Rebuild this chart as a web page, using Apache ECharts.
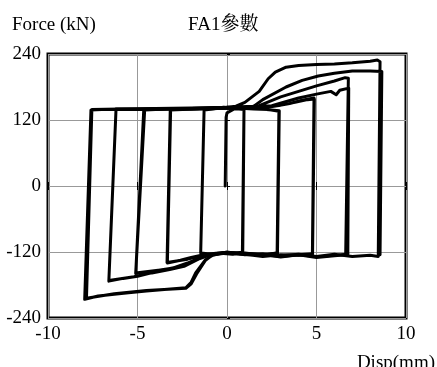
<!DOCTYPE html>
<html>
<head>
<meta charset="utf-8">
<script src="https://cdn.jsdelivr.net/npm/echarts@6/dist/echarts.min.js"></script>
<style>
html,body{margin:0;padding:0;background:#fff;}
#chart{width:437px;height:367px;}
</style>
</head>
<body>
<div id="chart"></div>
<script>
// Tick labels
const xTicks = [-10, -5, 0, 5, 10];
const yTicks = [-240, -120, 0, 120, 240];

// Cycle 1 (initial loading + ~1 mm loops)
const c1Disp  = [-0.10, -0.05, 0.00, 0.40, 0.95, 0.86, 0.40, -0.20, -0.80, -1.47, -1.28, -0.80, -0.20, 0.40, 0.95, 0.88];
const c1Force = [0, 125, 133, 140, 140, -120, -123, -121, -124, -122, 138, 140, 143, 141, 139, -122];

// Cycle 2 (~3 mm loops)
const c2Disp  = [0.88, 0.30, -0.50, -1.30, -2.00, -2.60, -3.33, -3.15, -2.50, -1.50, -0.50, 0.50, 1.50, 2.30, 2.90, 2.80, 2.00, 1.20, 0.40, -0.50, -1.30, -2.20, -3.35, -3.17, -2.40, -1.20, 0.00, 1.20, 2.20, 2.92, 2.82];
const c2Force = [-122, -124, -122, -125, -130, -135, -140, 138, 139, 140, 141, 142, 140, 139, 136, -122, -125, -123, -122, -122, -126, -133, -139, 139, 140, 141, 143, 141, 139, 137, -122];

// Cycle 3 (~5 mm loops)
const c3Disp  = [2.82, 2.00, 1.00, 0.00, -0.80, -1.30, -2.00, -2.60, -3.50, -4.30, -5.10, -4.60, -4.00, -3.00, -2.00, -1.00, 0.00, 1.00, 2.00, 2.80, 3.50, 4.20, 4.86, 4.77, 4.00, 3.00, 2.00, 1.00, 0.00, -1.00, -1.50, -2.20, -3.00, -4.00, -5.10, -4.65, -3.50, -2.00, -0.50, 1.00, 2.20, 3.00, 3.80, 4.50, 4.88, 4.78];
const c3Force = [-122, -126, -122, -121, -124, -127, -138, -146, -152, -155, -158, 138, 139, 140, 140, 141, 142, 141, 142, 146, 150, 156, 160, -124, -126, -125, -128, -124, -122, -124, -130, -140, -149, -154, -159, 139, 140, 141, 142, 141, 143, 147, 152, 157, 158, -123];

// Cycle 4 (~7 mm loops)
const c4Disp  = [4.78, 4.00, 3.00, 2.00, 1.00, 0.00, -1.00, -1.50, -2.30, -3.00, -4.00, -5.00, -5.80, -6.60, -6.20, -5.50, -4.50, -3.00, -1.50, 0.00, 1.00, 1.80, 3.00, 4.00, 5.00, 6.00, 6.60, 6.78, 6.63, 6.00, 5.00, 4.00, 3.00, 2.00, 1.00, 0.00, -1.00, -1.60, -2.40, -3.20, -4.20, -5.20, -6.60, -6.20, -5.00, -3.50, -2.00, -0.50, 1.00, 2.50, 4.00, 5.00, 5.80, 6.10, 6.30, 6.80, 6.90, 6.75];
const c4Force = [-123, -125, -127, -125, -123, -122, -125, -131, -143, -150, -156, -164, -168, -173, 139, 139, 139, 140, 141, 142, 143, 146, 162, 172, 182, 191, 197, 196, -125, -127, -130, -125, -128, -125, -124, -122, -126, -133, -146, -152, -158, -165, -172, 140, 140, 141, 141, 142, 143, 146, 160, 167, 172, 166, 174, 178, 175, -124];

// Cycle 5 (~8.5 mm loops)
const c5Disp  = [6.75, 6.00, 5.00, 4.00, 3.00, 2.00, 1.00, 0.00, -0.80, -1.20, -1.75, -2.00, -2.30, -3.50, -4.50, -5.50, -6.30, -7.20, -7.95, -7.60, -7.00, -6.00, -5.00, -4.00, -3.00, -2.00, -1.00, 0.00, 0.50, 1.00, 1.80, 2.30, 2.70, 3.30, 4.00, 5.00, 6.00, 7.00, 8.00, 8.40, 8.55, 8.45, 8.00, 7.00, 6.00, 5.00, 4.00, 3.00, 2.00, 1.00, 0.00, -0.80, -1.20, -1.70, -2.00, -2.30, -4.50, -6.30, -7.85, -7.55, -6.00, -4.00, -2.00, 0.00, 1.50, 2.00, 3.30, 4.20, 5.10, 6.00, 7.00, 8.00, 8.65, 8.55];
const c5Force = [-124, -126, -128, -125, -129, -124, -125, -120, -126, -134, -158, -175, -185, -188, -191, -194, -197, -200, -206, 138, 139, 139, 140, 140, 141, 141, 142, 143, 145, 152, 172, 195, 207, 216, 219, 221, 222, 224, 227, 229, 226, -128, -126, -128, -124, -128, -124, -127, -123, -124, -121, -125, -135, -160, -178, -186, -190, -196, -204, 139, 140, 141, 142, 143, 145, 157, 180, 192, 200, 205, 209, 209, 208, -125];

const cycles = [[c1Disp, c1Force], [c2Disp, c2Force], [c3Disp, c3Force], [c4Disp, c4Force], [c5Disp, c5Force]];

const FONT = "'Liberation Serif','Times New Roman',serif";
const chart = echarts.init(document.getElementById('chart'), null, {renderer: 'canvas'});

const series = cycles.map(function (c) {
  return {
    type: 'line',
    data: c[0].map(function (d, i) { return [d, c[1][i]]; }),
    showSymbol: false,
    symbol: 'none',
    smooth: false,
    lineStyle: {color: '#000', width: 3, join: 'round', cap: 'round'},
    animation: false,
    silent: true,
    xAxisIndex: 0, yAxisIndex: 0
  };
});

chart.setOption({
  animation: false,
  backgroundColor: '#fff',
  grid: {left: 48, right: 31, top: 54, bottom: 49, show: true, borderWidth: 3, borderColor: '#000', backgroundColor: 'transparent'},
  xAxis: [{
    type: 'value', min: xTicks[0], max: xTicks[xTicks.length - 1], interval: 5, position: 'bottom',
    axisLine: {show: false},
    axisTick: {show: true, inside: true, length: 4, lineStyle: {color: '#000'}},
    splitLine: {show: true, lineStyle: {color: '#999', width: 1}},
    axisLabel: {color: '#000', fontFamily: FONT, fontSize: 19, margin: 7}
  }, {
    type: 'value', min: xTicks[0], max: xTicks[xTicks.length - 1], interval: 5, position: 'top',
    axisLine: {show: false},
    axisTick: {show: true, inside: true, length: 4, lineStyle: {color: '#000'}},
    splitLine: {show: false}, axisLabel: {show: false}
  }],
  yAxis: [{
    type: 'value', min: yTicks[0], max: yTicks[yTicks.length - 1], interval: 120, position: 'left',
    axisLine: {show: false},
    axisTick: {show: false},
    splitLine: {show: true, lineStyle: {color: '#999', width: 1}},
    axisLabel: {color: '#000', fontFamily: FONT, fontSize: 19, margin: 7}
  }, {
    type: 'value', min: yTicks[0], max: yTicks[yTicks.length - 1], interval: 120, position: 'right',
    axisLine: {show: false},
    axisTick: {show: true, inside: false, length: 3, lineStyle: {color: '#000'}},
    splitLine: {show: false}, axisLabel: {show: false}
  }],
  graphic: [
    {type: 'text', left: 12, top: 16, style: {text: 'Force (kN)', font: "19px 'Liberation Serif', serif", fill: '#000'}},
    {type: 'text', left: 188, top: 16, style: {text: 'FA1參數', font: "19px 'Liberation Serif','Noto Serif CJK TC','Noto Sans CJK TC', serif", fill: '#000'}},
    {type: 'text', right: 2, top: 354, style: {text: 'Disp(mm)', font: "19px 'Liberation Serif', serif", fill: '#000'}}
  ],
  series: series
});
</script>
</body>
</html>
